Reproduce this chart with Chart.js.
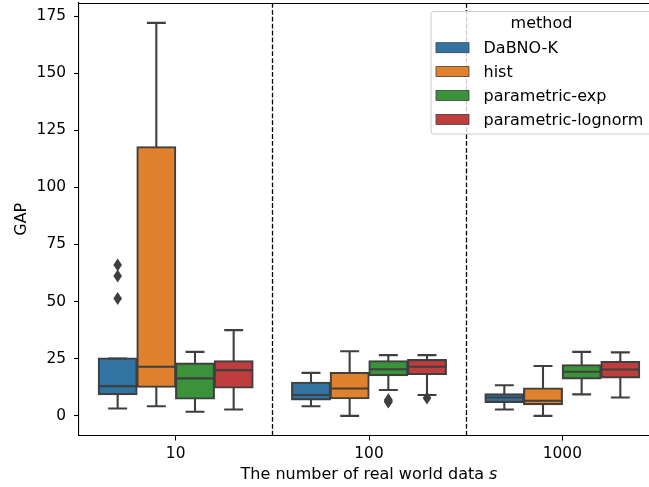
<!DOCTYPE html>
<html>
<head>
<meta charset="utf-8">
<script src="https://cdn.jsdelivr.net/npm/chart.js@4.4.1/dist/chart.umd.min.js"></script>
<style>
    html, body { margin: 0; padding: 0; background: #fff; overflow: hidden; }
    #wrap { width: 649px; height: 487px; overflow: hidden; }
</style>
</head>
<body>
<div id="wrap"><canvas id="chart" width="659" height="487"></canvas></div>
<script>
// categories and hue levels
var categories = [ '10', '100', '1000' ];
var methods    = [ 'DaBNO-K', 'hist', 'parametric-exp', 'parametric-lognorm' ];
var colors     = [ '#3274a1', '#e1812c', '#3a923a', '#c03d3e' ];
var yTicks     = [ 0, 25, 50, 75, 100, 125, 150, 175 ];

// box stats per method, one entry per category: [lower whisker, q1, median, q3, upper whisker]
var dabnoK = [ [ 3.2, 9.5, 13.0, 25.1, 25.1 ], [ 4.2, 7.2, 9.1, 14.5, 18.8 ], [ 2.8, 6.1, 8.0, 9.4, 13.4 ] ];
var hist   = [ [ 4.2, 12.7, 21.5, 117.6, 172.0 ], [ 0.0, 7.7, 12.0, 18.8, 28.3 ], [ 0.0, 5.1, 6.6, 12.0, 21.8 ] ];
var pExp   = [ [ 1.8, 7.6, 16.4, 22.9, 28.0 ], [ 11.3, 17.8, 20.4, 23.9, 26.6 ], [ 9.4, 16.4, 19.3, 22.2, 28.0 ] ];
var pLog   = [ [ 2.8, 12.4, 20.0, 23.9, 37.5 ], [ 9.1, 18.3, 21.5, 24.4, 26.6 ], [ 8.0, 16.8, 20.3, 23.6, 27.8 ] ];

// fliers per method, one list per category
var dabnoKOut = [ [ 66.0, 61.2, 51.4 ], [], [] ];
var histOut   = [ [], [], [] ];
var pExpOut   = [ [], [ 7.0, 6.6, 6.3, 6.1 ], [] ];
var pLogOut   = [ [], [ 7.8 ], [] ];

var stats    = [ dabnoK, hist, pExp, pLog ];
var outliers = [ dabnoKOut, histOut, pExpOut, pLogOut ];

var LINE = '#3f3f3f';
var FONT = '"DejaVu Sans", sans-serif';
var FS   = 15.4;   // tick labels
var FT   = 16;     // titles and legend

var boxPlugin = {
    id: 'boxParts',
    afterDatasetsDraw: function ( chart ) {
        var ctx = chart.ctx;
        var y   = chart.scales.y;
        var x   = chart.scales.x;
        var area = chart.chartArea;

        ctx.save();
        ctx.strokeStyle = LINE;
        ctx.lineWidth   = 2.1;
        ctx.lineCap     = 'butt';

        stats.forEach( function ( series, d ) {
            var meta = chart.getDatasetMeta( d );
            series.forEach( function ( s, i ) {
                var bar = meta.data[i];
                var cx  = bar.x;
                var hw  = bar.width / 2;
                var px  = function ( v ) { return y.getPixelForValue( v ); };

                ctx.beginPath();
                // whiskers
                ctx.moveTo( cx, px( s[3] ) ); ctx.lineTo( cx, px( s[4] ) );
                ctx.moveTo( cx, px( s[1] ) ); ctx.lineTo( cx, px( s[0] ) );
                // caps
                ctx.moveTo( cx - hw / 2, px( s[4] ) ); ctx.lineTo( cx + hw / 2, px( s[4] ) );
                ctx.moveTo( cx - hw / 2, px( s[0] ) ); ctx.lineTo( cx + hw / 2, px( s[0] ) );
                // median
                ctx.moveTo( cx - hw, px( s[2] ) ); ctx.lineTo( cx + hw, px( s[2] ) );
                ctx.stroke();

                // fliers
                ctx.fillStyle = LINE;
                outliers[d][i].forEach( function ( v ) {
                    var oy = px( v );
                    ctx.beginPath();
                    ctx.moveTo( cx, oy - 6.5 );
                    ctx.lineTo( cx + 4.3, oy );
                    ctx.lineTo( cx, oy + 6.5 );
                    ctx.lineTo( cx - 4.3, oy );
                    ctx.closePath();
                    ctx.fill();
                } );
            } );
        } );

        // dashed separators between categories
        ctx.strokeStyle = '#000';
        ctx.lineWidth   = 1.3;
        ctx.setLineDash( [ 4.8, 2.1 ] );
        for ( var k = 0; k < categories.length - 1; k++ ) {
            var sx = Math.round( x.getPixelForValue( k + 0.5 ) ) + 0.5;
            ctx.beginPath();
            ctx.moveTo( sx, area.top );
            ctx.lineTo( sx, area.bottom );
            ctx.stroke();
        }
        ctx.setLineDash( [] );

        // top spine
        ctx.lineWidth = 1.1;
        ctx.beginPath();
        ctx.moveTo( area.left, Math.round( area.top ) + 0.5 );
        ctx.lineTo( chart.width, Math.round( area.top ) + 0.5 );
        ctx.stroke();
        ctx.restore();
    },
    afterDraw: function ( chart ) {
        var ctx  = chart.ctx;
        var area = chart.chartArea;

        ctx.save();
        ctx.fillStyle = '#000';

        // axis titles
        ctx.textBaseline = 'middle';
        var plain = 'The number of real world data ';
        ctx.font = FT + 'px ' + FONT;
        var wPlain = ctx.measureText( plain ).width;
        ctx.font = 'italic ' + FT + 'px ' + FONT;
        var wIt = ctx.measureText( 's' ).width;
        var cx = ( area.left + area.right ) / 2;
        var startX = cx - ( wPlain + wIt ) / 2;
        ctx.textAlign = 'left';
        ctx.font = FT + 'px ' + FONT;
        ctx.fillText( plain, startX, 475 );
        ctx.font = 'italic ' + FT + 'px ' + FONT;
        ctx.fillText( 's', startX + wPlain, 475 );

        ctx.font = FT + 'px ' + FONT;
        ctx.translate( 22, ( area.top + area.bottom ) / 2 );
        ctx.rotate( -Math.PI / 2 );
        ctx.textAlign = 'center';
        ctx.fillText( 'GAP', 0, 0 );
        ctx.restore();

        // legend
        ctx.save();
        var lx = 431, ly = 11.5, lw = 240, lh = 122.5, r = 3;
        ctx.beginPath();
        ctx.moveTo( lx + r, ly );
        ctx.lineTo( lx + lw - r, ly );
        ctx.arcTo( lx + lw, ly, lx + lw, ly + r, r );
        ctx.lineTo( lx + lw, ly + lh - r );
        ctx.arcTo( lx + lw, ly + lh, lx + lw - r, ly + lh, r );
        ctx.lineTo( lx + r, ly + lh );
        ctx.arcTo( lx, ly + lh, lx, ly + lh - r, r );
        ctx.lineTo( lx, ly + r );
        ctx.arcTo( lx, ly, lx + r, ly, r );
        ctx.closePath();
        ctx.fillStyle = 'rgba(255,255,255,0.8)';
        ctx.fill();
        ctx.strokeStyle = '#cccccc';
        ctx.lineWidth = 1;
        ctx.stroke();

        ctx.fillStyle = '#000';
        ctx.font = FT + 'px ' + FONT;
        ctx.textBaseline = 'middle';
        ctx.textAlign = 'center';
        ctx.fillText( 'method', 541.5, 24 );

        ctx.textAlign = 'left';
        methods.forEach( function ( m, i ) {
            var cy = 47.7 + i * 23.9;
            ctx.fillStyle = colors[i];
            ctx.fillRect( 436, cy - 5, 33, 10 );
            ctx.strokeStyle = LINE;
            ctx.lineWidth = 0.8;
            ctx.strokeRect( 436, cy - 5, 33, 10 );
            ctx.fillStyle = '#000';
            ctx.fillText( m, 483.5, cy + 1 );
        } );
        ctx.restore();
    }
};

var datasets = methods.map( function ( m, d ) {
    return {
        label: m,
        data: stats[d].map( function ( s ) { return [ s[1], s[3] ]; } ),
        backgroundColor: colors[d],
        borderColor: LINE,
        borderWidth: 2.1,
        borderSkipped: false,
        inflateAmount: 1,
        barPercentage: 0.98,
        categoryPercentage: 0.8
    };
} );

new Chart( document.getElementById( 'chart' ).getContext( '2d' ), {
    type: 'bar',
    data: { labels: categories, datasets: datasets },
    plugins: [ boxPlugin ],
    options: {
        responsive: false,
        animation: false,
        layout: { padding: { top: 3, right: 0, left: 0, bottom: 0 } },
        plugins: {
            legend: { display: false },
            tooltip: { enabled: false }
        },
        scales: {
            x: {
                offset: true,
                grid: { display: true, offset: false, drawOnChartArea: false, drawTicks: true, tickLength: 5, tickColor: '#000', tickWidth: 1.1 },
                border: { display: true, color: '#000', width: 1.1 },
                ticks: { color: '#000', padding: 4, font: { family: FONT, size: FS } },
                afterFit: function ( scale ) {
                    scale.height = 51.5;
                    scale.paddingLeft = 0;
                    scale.paddingRight = 0;
                }
            },
            y: {
                min: -8.6,
                max: 180.7,
                grid: { display: true, drawOnChartArea: false, drawTicks: true, tickLength: 5, tickColor: '#000', tickWidth: 1.1 },
                border: { display: true, color: '#000', width: 1.1 },
                ticks: { color: '#000', padding: 8, font: { family: FONT, size: FS } },
                afterBuildTicks: function ( scale ) {
                    scale.ticks = yTicks.map( function ( v ) { return { value: v }; } );
                },
                afterFit: function ( scale ) {
                    scale.width = 79;
                    scale.paddingTop = 0;
                    scale.paddingBottom = 0;
                }
            }
        }
    }
} );
</script>
</body>
</html>
